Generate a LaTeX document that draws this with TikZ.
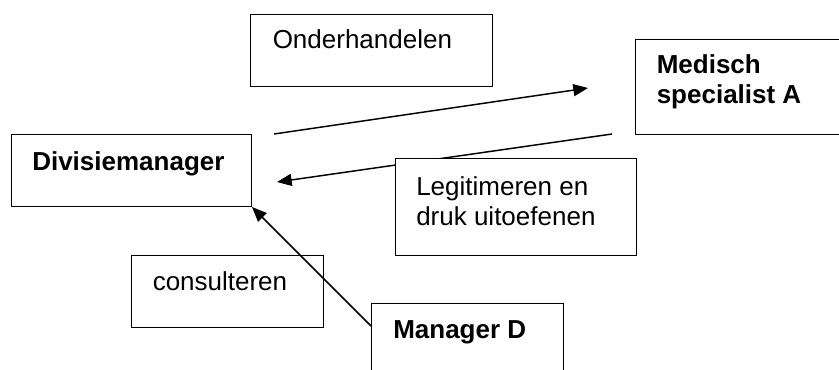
\documentclass[tikz,border=0pt]{standalone}
\usepackage{fontspec}
\setmainfont{Liberation Sans}
\usetikzlibrary{arrows.meta}

\tikzset{
	kader/.style={draw, fill=white, line width=1.1pt, inner sep=0, anchor=north west},
	tekst/.style={inner sep=0, anchor=base west, align=left, font=\fontsize{19.5pt}{22.5pt}\selectfont},
	pijl/.style={line width=1.1pt, -{Triangle[length=11pt, width=9pt]}}
}

\begin{document}
\begin{tikzpicture}[x=0.75pt, y=-0.75pt]
	\useasboundingbox (0,0) rectangle (839,369);
	\clip (0,0) rectangle (839,369);
	\coordinate (ondl) at (274,134); \coordinate (ondr) at (588,88);
	\coordinate (legr) at (612,134); \coordinate (legl) at (277,182);
	\coordinate (conr) at (371,326); \coordinate (conl) at (252,207);
	\draw[pijl] (ondl) -- (ondr);
	\draw[pijl] (legr) -- (legl);
	\node[kader, minimum width=181.5pt, minimum height=54pt] (onderh) at (250,14) {};
	\node[kader, minimum width=180pt, minimum height=54pt] (divisie) at (11,134) {};
	\node[kader, minimum width=190pt, minimum height=71.25pt] (medisch) at (635,39) {};
	\node[kader, minimum width=180.75pt, minimum height=72.75pt] (legit) at (395,158) {};
	\node[kader, minimum width=144pt, minimum height=54pt] (consult) at (131,255) {};
	\node[kader, minimum width=144pt, minimum height=70pt] (managerd) at (371,303) {};
	% bij twee regels ligt base op de laatste regel
	\node[tekst] (t-onderh) at (272.5,48.5) {Onderhandelen};
	\node[tekst, font=\fontsize{19.5pt}{22.5pt}\selectfont\bfseries] (t-divisie) at (32,170) {Divisiemanager};
	\node[tekst, font=\fontsize{19.5pt}{22.5pt}\selectfont\bfseries] (t-medisch) at (656.5,103.5) {Medisch\\specialist A};
	\node[tekst] (t-legit) at (416,225) {Legitimeren en\\druk uitoefenen};
	\node[tekst] (t-consult) at (152.5,290) {consulteren};
	\node[tekst, font=\fontsize{19.5pt}{22.5pt}\selectfont\bfseries] (t-managerd) at (393,338.5) {Manager D};
	\draw[pijl] (conr) -- (conl);
\end{tikzpicture}
\end{document}
